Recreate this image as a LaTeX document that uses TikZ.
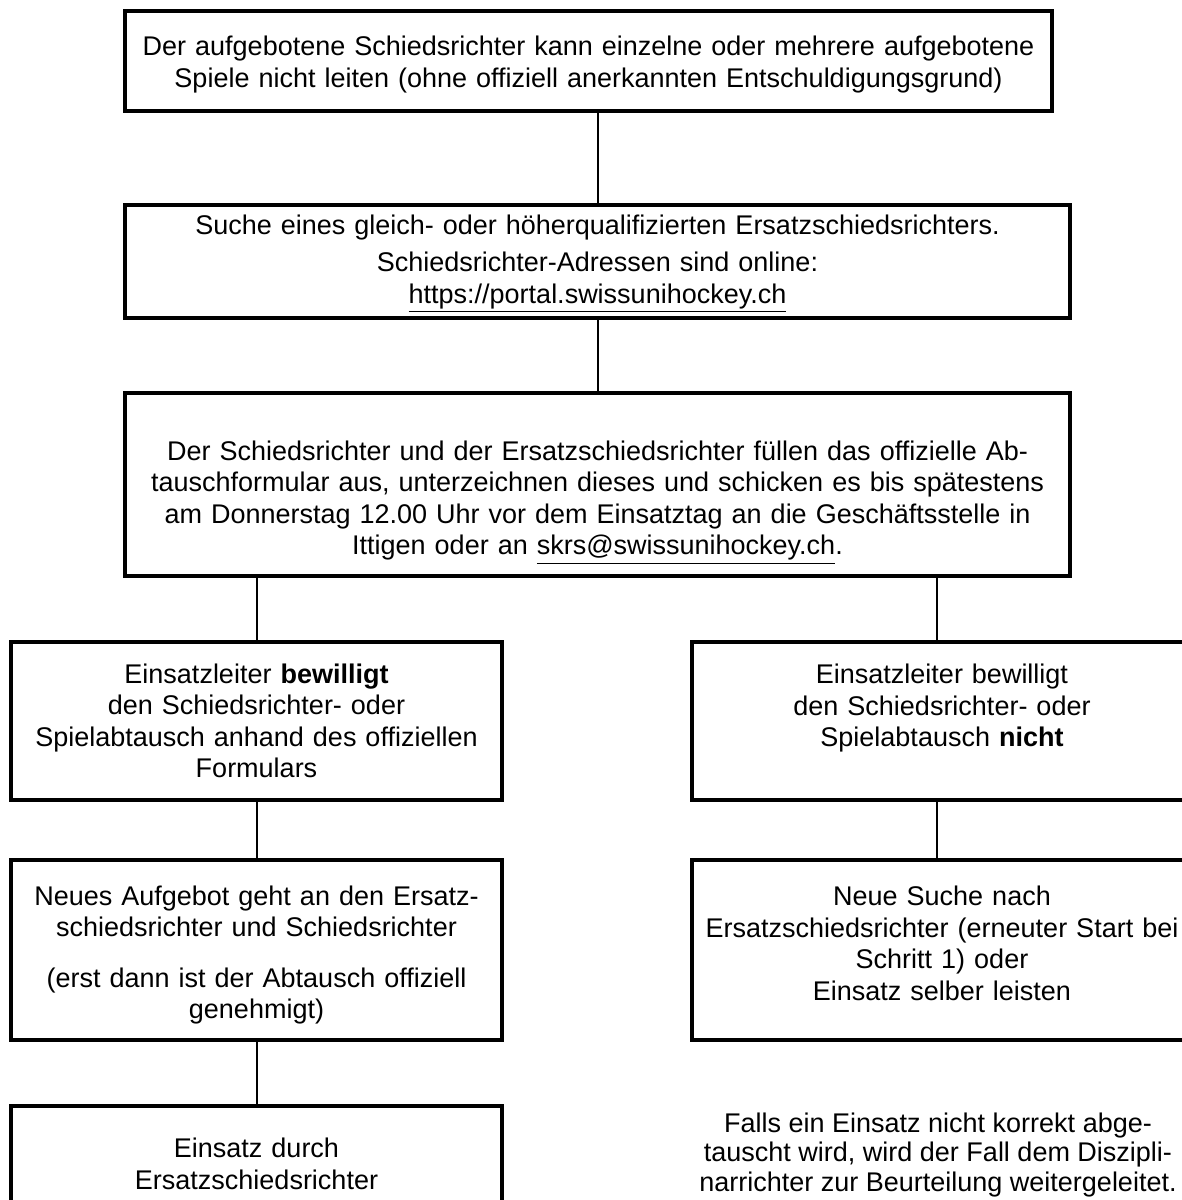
\documentclass[tikz,border=0pt]{standalone}
\usepackage{fontspec}
\setmainfont{Liberation Sans}
\usetikzlibrary{positioning}

\tikzset{
  flowbox/.style={draw, line width=2pt, outer sep=0pt, inner xsep=3pt, inner ysep=0pt,
    align=center, font=\fontsize{13.5pt}{15.75pt}\selectfont},
  notetext/.style={align=center, inner sep=0pt, font=\fontsize{13.5pt}{14.75pt}\selectfont},
  link/.style={line width=1pt},
}

\begin{document}
\begin{tikzpicture}[x=1pt,y=1pt,node distance=33pt]
    \useasboundingbox (0,0) rectangle (591,-600);
    % middle column
    \node[flowbox, minimum width=463.5pt, minimum height=50pt, text width=457pt, anchor=north west] (start) at (62.5,-5.5)
        {\rule{0pt}{13.5pt}Der aufgebotene Schiedsrichter kann einzelne oder mehrere aufgebotene\\
         Spiele nicht leiten (ohne offiziell anerkannten Entschuldigungsgrund)};
    \node[flowbox, minimum width=472.5pt, minimum height=56.5pt, text width=466pt,
        below=47pt of start.south west, anchor=north west] (search)
        {\rule{0pt}{12pt}Suche eines gleich- oder höherqualifizierten Ersatzschiedsrichters.\\[3pt]
         Schiedsrichter-Adressen sind online:\\
         \underline{https://portal.swissunihockey.ch}};
    \node[flowbox, minimum width=472.5pt, minimum height=91.5pt, text width=466pt,
        below=37.5pt of search] (form)
        {\rule{0pt}{28pt}Der Schiedsrichter und der Ersatzschiedsrichter füllen das offizielle Ab-\\
         tauschformular aus, unterzeichnen dieses und schicken es bis spätestens\\
         am Donnerstag 12.00 Uhr vor dem Einsatztag an die Geschäftsstelle in\\
         Ittigen oder an \underline{skrs@swissunihockey.ch}.};
    % left column
    \node[flowbox, minimum width=245.5pt, minimum height=79pt, text width=239pt, anchor=north west] (yes) at (5.5,-321)
        {Einsatzleiter \textbf{bewilligt}\\
         den Schiedsrichter- oder\\
         Spielabtausch anhand des offiziellen\\
         Formulars};
    \node[flowbox, minimum width=245.5pt, minimum height=90pt, text width=239pt,
        below=30pt of yes] (call)
        {\rule{0pt}{15pt}Neues Aufgebot geht an den Ersatz-\\
         schiedsrichter und Schiedsrichter\\[9.5pt]
         (erst dann ist der Abtausch offiziell\\
         genehmigt)};
    \node[flowbox, minimum width=245.5pt, minimum height=58pt, text width=239pt,
        below=of call] (sub)
        {Einsatz durch\\
         Ersatzschiedsrichter};
    % right column
    \node[flowbox, minimum width=250pt, minimum height=79pt, text width=243pt,
        right=95pt of yes.north east, anchor=north west] (no)
        {Einsatzleiter bewilligt\\
         den Schiedsrichter- oder\\
         Spielabtausch \textbf{nicht}\\
         \mbox{}};
    \node[flowbox, minimum width=250pt, minimum height=90pt, text width=243pt,
        below=30pt of no] (again)
        {Neue Suche nach\\
         Ersatzschiedsrichter (erneuter Start bei\\
         Schritt 1) oder\\
         Einsatz selber leisten\rule[-7pt]{0pt}{7pt}};
    \coordinate (rx) at (468.5,0);
    \node[notetext] (note) at (469,-577.5)
        {Falls ein Einsatz nicht korrekt abge-\\
         tauscht wird, wird der Fall dem Diszipli-\\
         narrichter zur Beurteilung weitergeleitet.};
    % connectors
    \draw[link] (search.north) -- (search.north |- start.south);
    \draw[link] (search) -- (form);
    \draw[link] (yes.north) -- (yes.north |- form.south);
    \draw[link] (yes) -- (call);
    \draw[link] (call) -- (sub);
    \draw[link] (no.north -| rx) -- (form.south -| rx);
    \draw[link] (no.south -| rx) -- (again.north -| rx);
\end{tikzpicture}
\end{document}
